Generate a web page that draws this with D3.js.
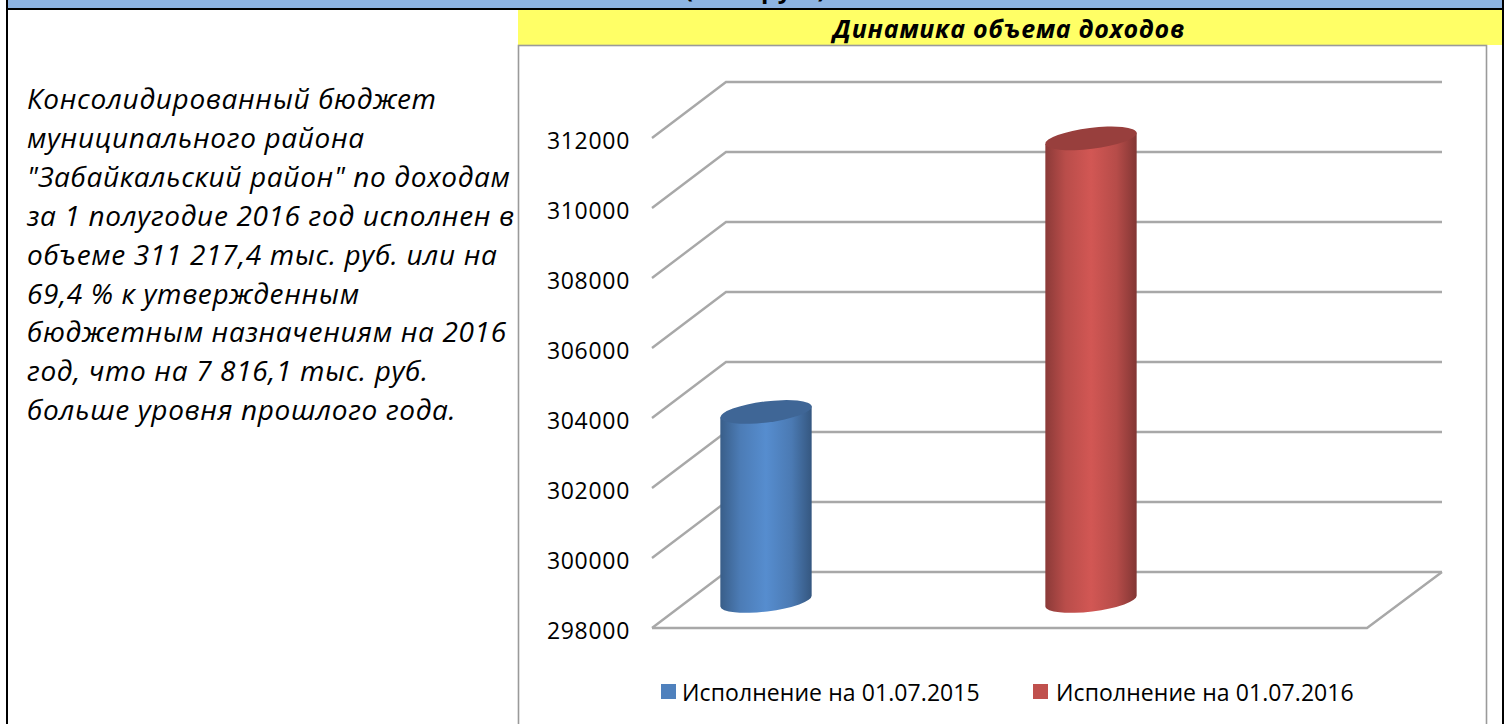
<!DOCTYPE html>
<html>
<head>
<meta charset="utf-8">
<script src="https://cdn.jsdelivr.net/npm/d3@7/dist/d3.min.js"></script>
<style>
  html, body { margin: 0; padding: 0; background: #fff; overflow: hidden; }
  svg { display: block; }
</style>
</head>
<body>
<svg id="chart" width="1509" height="724"></svg>
<script>
// chart data
const seriesNames = ["Исполнение на 01.07.2015", "Исполнение на 01.07.2016"];
const seriesValues = [303401.3, 311217.4];
const seriesColors = ["#4f81bd", "#c0504d"];
const yTicks = [298000, 300000, 302000, 304000, 306000, 308000, 310000, 312000];
const chartTitle = "Динамика объема доходов";
const clippedHeader = "(тыс. руб.)";
const bodyLines = [
  "Консолидированный бюджет",
  "муниципального района",
  "\"Забайкальский район\" по доходам",
  "за 1 полугодие 2016 год исполнен в",
  "объеме 311 217,4 тыс. руб. или на",
  "69,4 % к утвержденным",
  "бюджетным назначениям на 2016",
  "год, что на 7 816,1 тыс. руб.",
  "больше уровня прошлого года."
];

const svg = d3.select("#chart");
const labelFont = "'Open Sans', sans-serif";

// page frame
svg.append("rect").attr("x", 8).attr("y", 0).attr("width", 1494).attr("height", 8).attr("fill", "#8db4e2");
// the header row is cut by the top of the window in the original too
svg.append("text").attr("x", 756).attr("y", -2).attr("text-anchor", "middle")
  .attr("font-family", labelFont).attr("font-size", 24).attr("font-weight", 700)
  .attr("letter-spacing", 1.5)
  .text(clippedHeader);
svg.append("rect").attr("x", 518).attr("y", 10).attr("width", 984).attr("height", 35).attr("fill", "#ffff66");
svg.append("rect").attr("x", 518.5).attr("y", 45.5).attr("width", 968).attr("height", 690)
  .attr("fill", "#fff").attr("stroke", "#9a9a9a").attr("stroke-width", 1.6);
svg.append("line").attr("x1", 6).attr("x2", 1504).attr("y1", 9).attr("y2", 9).attr("stroke", "#000").attr("stroke-width", 2);
svg.append("line").attr("x1", 7).attr("x2", 7).attr("y1", 0).attr("y2", 724).attr("stroke", "#000").attr("stroke-width", 2);
svg.append("line").attr("x1", 1503).attr("x2", 1503).attr("y1", 0).attr("y2", 724).attr("stroke", "#000").attr("stroke-width", 2);

// title and left text
svg.append("text").attr("x", 1009).attr("y", 38).attr("text-anchor", "middle")
  .attr("font-family", labelFont).attr("font-size", 25).attr("font-weight", 700).attr("font-style", "italic")
  .attr("letter-spacing", 0.7)
  .text(chartTitle);

svg.append("g").selectAll("text").data(bodyLines).enter().append("text")
  .attr("x", 27)
  .attr("y", (d, i) => 109 + i * 38.9)
  .attr("font-family", labelFont).attr("font-size", 28).attr("font-style", "italic")
  .attr("letter-spacing", 0.65)
  .text(d => d);

// fake 3d box: depth is a fixed offset from the front plane
const depth = { x: 74, y: -56 };
const front = { left: 652, right: 1367 };

const yScale = d3.scaleLinear().domain([298000, 312000]).range([628, 138]);
const xScale = d3.scalePoint().domain(seriesNames).range([729, 1054]);

const defs = svg.append("defs");
seriesColors.forEach((c, i) => {
  const base = d3.color(c);
  const grad = defs.append("linearGradient").attr("id", "cyl" + i);
  grad.append("stop").attr("offset", "0%").attr("stop-color", base.darker(0.9));
  grad.append("stop").attr("offset", "22%").attr("stop-color", base.darker(0.1));
  grad.append("stop").attr("offset", "50%").attr("stop-color", base.brighter(0.25));
  grad.append("stop").attr("offset", "78%").attr("stop-color", base.darker(0.15));
  grad.append("stop").attr("offset", "100%").attr("stop-color", base.darker(1.1));
});
defs.append("filter").attr("id", "soft")
  .attr("filterUnits", "userSpaceOnUse")
  .attr("x", 0).attr("y", 0).attr("width", 1509).attr("height", 724)
  .append("feGaussianBlur").attr("stdDeviation", 0.6);

// gridlines: side wall and back wall
const grid = svg.append("g").attr("stroke", "#a8a8a8").attr("stroke-width", 2.4).attr("fill", "none").attr("filter", "url(#soft)");
yTicks.forEach(t => {
  const y = yScale(t);
  const line = [[front.left, y], [front.left + depth.x, y + depth.y], [1442, y + depth.y]];
  grid.append("path").attr("d", d3.line()(line));
});
grid.append("path").attr("d", d3.line()([
  [front.left, yScale(298000)],
  [front.right, yScale(298000)],
  [front.right + depth.x + 1, yScale(298000) + depth.y]
]));

// y axis labels
svg.append("g").selectAll("text").data(yTicks).enter().append("text")
  .attr("x", 630).attr("y", d => yScale(d) + 11)
  .attr("text-anchor", "end")
  .attr("font-family", labelFont).attr("font-size", 23)
  .attr("letter-spacing", 0.7)
  .text(d => d);

// cylinders sit halfway into the depth of the box
const rx = 46, ry = 10.5, tilt = -7;
const bars = svg.append("g").selectAll("g").data(seriesNames).enter().append("g");
bars.each(function (name, i) {
  const g = d3.select(this);
  const cx = xScale(name) + depth.x / 2;
  const yBase = yScale(298000) + depth.y / 2 + 1;
  const yTop = yScale(seriesValues[i]) + depth.y / 2 + 1;
  const rad = tilt * Math.PI / 180;
  const ex = Math.cos(rad) * rx;
  const ey = Math.sin(rad) * rx;
  const side = `M${cx - ex},${yTop - ey}L${cx - ex},${yBase - ey}` +
    `A${rx},${ry} ${tilt} 0 0 ${cx + ex},${yBase + ey}L${cx + ex},${yTop + ey}Z`;
  g.append("path").attr("d", side).attr("fill", `url(#cyl${i})`);
  g.append("ellipse").attr("rx", rx).attr("ry", ry)
    .attr("transform", `translate(${cx},${yTop}) rotate(${tilt})`)
    .attr("fill", d3.color(seriesColors[i]).darker(0.65));
});

// legend
const legendX = [661, 1033];
const legend = svg.append("g").selectAll("g").data(seriesNames).enter().append("g")
  .attr("transform", (d, i) => `translate(${legendX[i]},684)`);
legend.append("rect").attr("width", 15).attr("height", 15).attr("fill", (d, i) => seriesColors[i]);
legend.append("text").attr("x", (d, i) => i === 0 ? 21 : 23).attr("y", 17)
  .attr("font-family", labelFont).attr("font-size", 23)
  .attr("letter-spacing", 0.08)
  .text(d => d);
</script>
</body>
</html>
